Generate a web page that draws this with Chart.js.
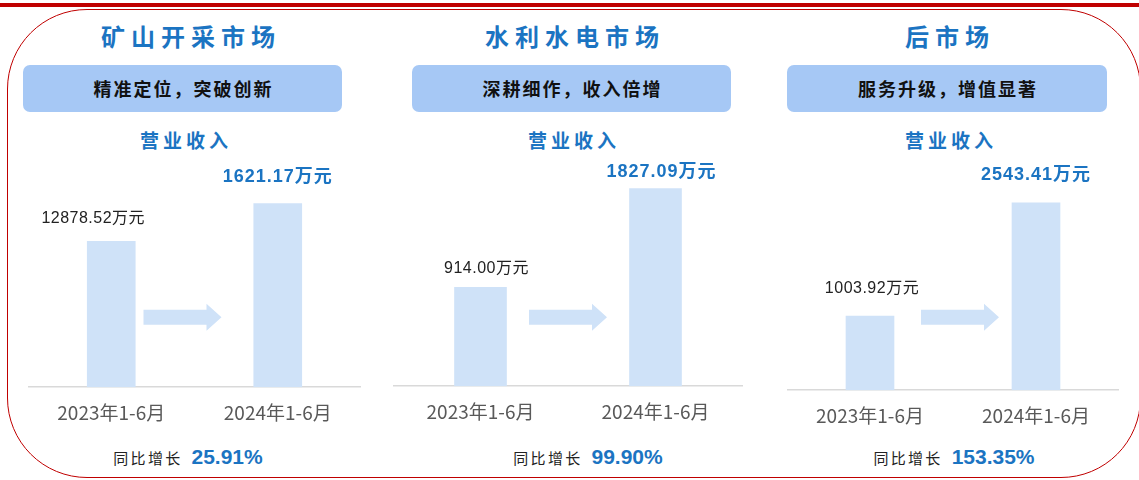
<!DOCTYPE html>
<html>
<head>
<meta charset="utf-8">
<script src="https://cdn.jsdelivr.net/npm/chart.js@4.4.1/dist/chart.umd.min.js"></script>
<style>
  html, body { margin: 0; padding: 0; background: #fff; }
  body { width: 1139px; height: 480px; position: relative; overflow: hidden;
         font-family: "Noto Sans CJK SC", "Noto Sans", sans-serif; }
  .topbar { position: absolute; left: 0; top: 3px; width: 1139px; height: 4px; background: #c00000; }
  .frame { position: absolute; left: 7px; top: 9px; width: 1132px; height: 467px;
           border: 1.5px solid #c00000; border-radius: 80px; }
  .abs { position: absolute; text-align: center; white-space: nowrap; }
  .title { color: #1b74c2; font-size: 24px; font-weight: 700; letter-spacing: 6px; height: 30px; line-height: 30px; }
  .pill { background: #a6c8f5; border-radius: 7px; color: #111; font-size: 18px; font-weight: 700;
          letter-spacing: 2px; }
  .sub { color: #1b74c2; font-size: 19px; font-weight: 700; letter-spacing: 4px; height: 26px; line-height: 26px; }
  .growth { display: flex; justify-content: center; align-items: center; height: 30px; }
  .growth .k { color: #222; font-size: 15px; letter-spacing: 2.3px; margin-right: 9px; }
  .growth .v { color: #1b74c2; font-size: 21px; font-weight: 700; font-family: "Liberation Sans", Arial, sans-serif; }
  canvas { position: absolute; }
</style>
</head>
<body>
<div class="topbar"></div>
<div class="frame"></div>
<script>
// Market segments and their half-year revenue (万元)
const markets = ['矿山开采市场', '水利水电市场', '后市场'];
const taglines = ['精准定位，突破创新', '深耕细作，收入倍增', '服务升级，增值显著'];
const metricName = '营业收入';
const periods = ['2023年1-6月', '2024年1-6月'];
const miningRevenue = [1287.852, 1621.17];
const hydroRevenue = [914.00, 1827.09];
const aftermarketRevenue = [1003.92, 2543.41];
const printedFigures = [['12878.52', '1621.17'], ['914.00', '1827.09'], ['1003.92', '2543.41']];
const yoyGrowth = [25.91, 99.90, 153.35];
const unit = '万元';

const revenues = [miningRevenue, hydroRevenue, aftermarketRevenue];

// Panel geometry
const layout = {
  titleX: [188, 572, 947],
  pill: [[23, 319], [412, 319], [787, 320]],
  subX: [184, 572, 949],
  growthX: [188, 588, 954],
  canvas: [[28, 333, 308], [393, 350, 307], [787, 332, 311]],
  yMax: [2270, 2370, 3530],
  barW: [48, 52, 48],
  arrowDx: [-12, 0, 7],
  arrowRise: [70, 69, 73],
  labelNudge: [[[-18, -23], [0, -26]], [[6, -19], [6, -17]], [[2, -28], [0, -28]]]
};
const BLUE = '#1b74c2';
const BAR = '#cfe2f8';

function addDiv(cls, text, left, top, width, extra) {
  const d = document.createElement('div');
  d.className = 'abs ' + cls;
  d.style.left = left + 'px';
  d.style.top = top + 'px';
  d.style.width = width + 'px';
  if (extra) Object.assign(d.style, extra);
  if (text !== null) d.textContent = text;
  document.body.appendChild(d);
  return d;
}

markets.forEach((m, i) => {
  addDiv('title', m, layout.titleX[i] - 150, 21, 300, { paddingLeft: '6px', boxSizing: 'border-box' });
  const [pl, pw] = layout.pill[i];
  addDiv('pill', taglines[i], pl, 65, pw, { height: '47px', lineHeight: '47px', paddingLeft: '2px', boxSizing: 'border-box' });
  addDiv('sub', metricName, layout.subX[i] - 100, 127, 200, { paddingLeft: '4px', boxSizing: 'border-box' });
  const g = addDiv('growth', null, layout.growthX[i] - 150, 442, 300);
  const k = document.createElement('span'); k.className = 'k'; k.textContent = '同比增长';
  const v = document.createElement('span'); v.className = 'v'; v.textContent = yoyGrowth[i].toFixed(2) + '%';
  g.appendChild(k); g.appendChild(v);
});

// Arrow between the two bars and value captions above them
const annotations = {
  id: 'annotations',
  afterDatasetsDraw(chart, args, opts) {
    const p = opts.panel;
    const ctx = chart.ctx;
    const bars = chart.getDatasetMeta(0).data;
    ctx.save();
    // block arrow
    const cx = (bars[0].x + bars[1].x) / 2 + layout.arrowDx[p];
    const cy = chart.chartArea.bottom - layout.arrowRise[p];
    const len = 78, shaft = 7.5, head = 13.5, headLen = 15;
    const x0 = cx - len / 2, x1 = cx + len / 2;
    ctx.fillStyle = BAR;
    ctx.beginPath();
    ctx.moveTo(x0, cy - shaft);
    ctx.lineTo(x1 - headLen, cy - shaft);
    ctx.lineTo(x1 - headLen, cy - head);
    ctx.lineTo(x1, cy);
    ctx.lineTo(x1 - headLen, cy + head);
    ctx.lineTo(x1 - headLen, cy + shaft);
    ctx.lineTo(x0, cy + shaft);
    ctx.closePath();
    ctx.fill();
    // captions
    ctx.textAlign = 'center';
    ctx.textBaseline = 'middle';
    bars.forEach((bar, j) => {
      const [dx, dy] = layout.labelNudge[p][j];
      if (j === 0) {
        ctx.fillStyle = '#222';
        ctx.font = '16px "Liberation Sans", "Noto Sans CJK SC", sans-serif';
        ctx.letterSpacing = '0.5px';
      } else {
        ctx.fillStyle = BLUE;
        ctx.font = 'bold 18px "Liberation Sans", "Noto Sans CJK SC", sans-serif';
        ctx.letterSpacing = '1px';
      }
      ctx.fillText(printedFigures[p][j] + unit, bar.x + dx, bar.y + dy);
    });
    ctx.restore();
  }
};

revenues.forEach((values, i) => {
  const [left, width, height] = layout.canvas[i];
  const cv = document.createElement('canvas');
  cv.width = width; cv.height = height;
  cv.style.left = left + 'px';
  cv.style.top = '130px';
  document.body.appendChild(cv);
  new Chart(cv, {
    type: 'bar',
    data: {
      labels: periods,
      datasets: [{ data: values, backgroundColor: BAR, borderWidth: 0, barThickness: layout.barW[i] }]
    },
    options: {
      responsive: false,
      animation: false,
      layout: { padding: 0 },
      plugins: { legend: { display: false }, tooltip: { enabled: false }, annotations: { panel: i } },
      scales: {
        x: {
          grid: { display: false, drawTicks: false },
          border: { display: true, color: '#d9d9d9', width: 1.5 },
          ticks: { color: '#595959', padding: 14, font: { size: 19, family: '"Noto Sans CJK SC", sans-serif' } }
        },
        y: { display: false, min: 0, max: layout.yMax[i] }
      }
    },
    plugins: [annotations]
  });
});
</script>
</body>
</html>
